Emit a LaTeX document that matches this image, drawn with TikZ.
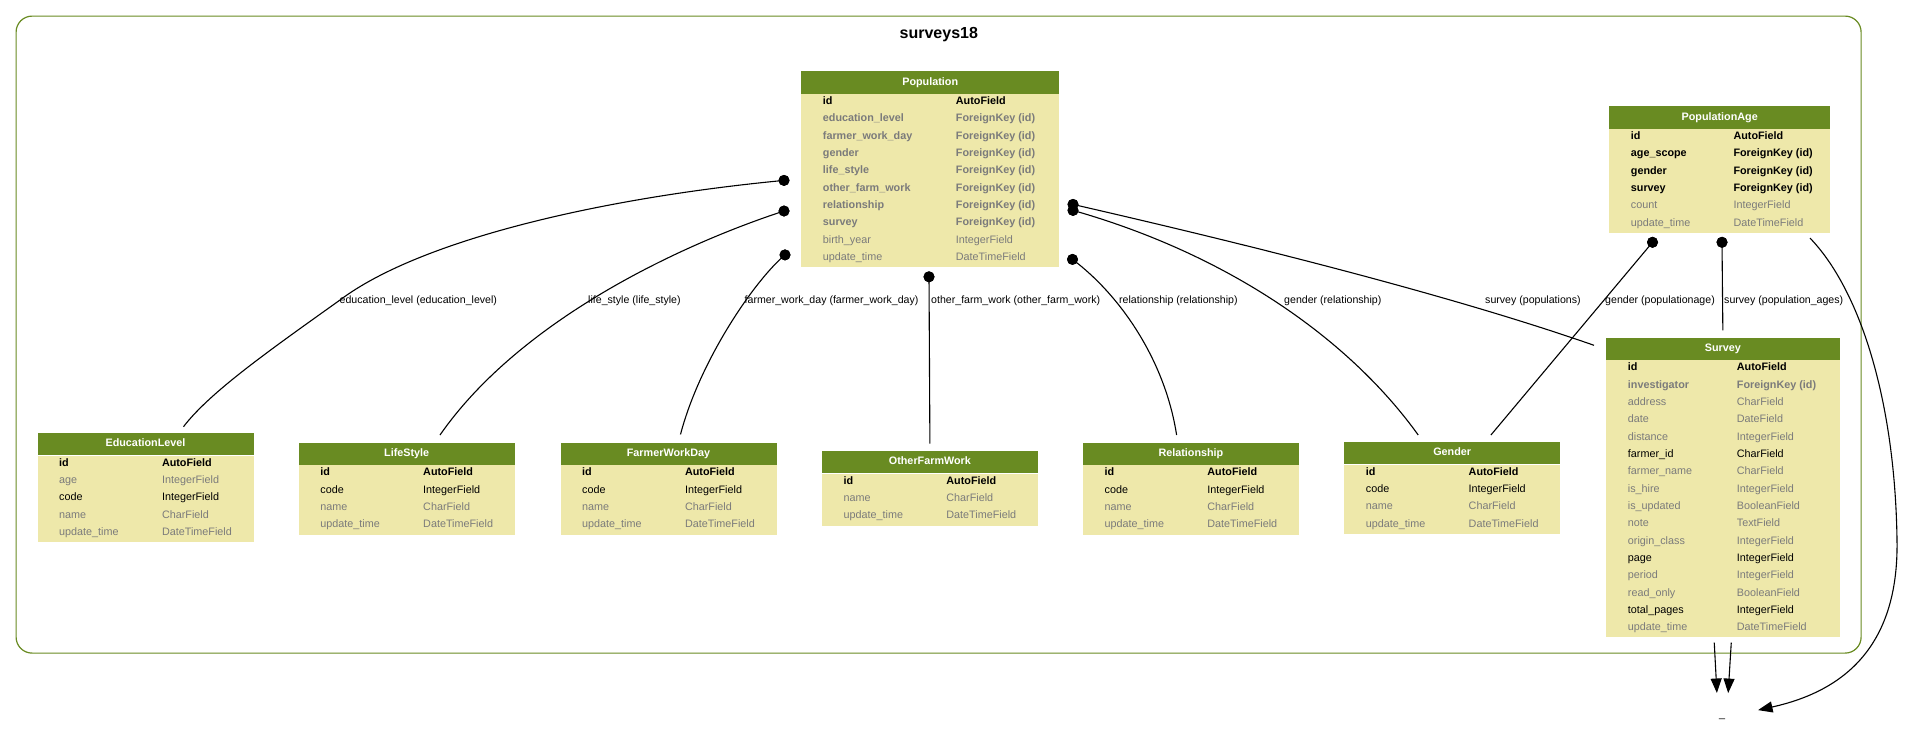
\documentclass[tikz,border=0pt]{standalone}
\usepackage{fontspec}
\setmainfont{Liberation Sans}
\usetikzlibrary{calc,arrows.meta,shapes.geometric}

\definecolor{olivehead}{HTML}{698B22}
\definecolor{paleboard}{HTML}{EEE8AA}
\definecolor{blankgray}{HTML}{7B7B7B}

\newcommand\fieldfont{\fontsize{10.8}{13}\selectfont}

\tikzset{
  tblhead/.style={fill=olivehead, text=white, font=\fieldfont\bfseries,
    inner sep=0pt, anchor=north west, minimum height=22.3pt,
    text height=8pt, text depth=2.3pt},
  tblbody/.style={fill=paleboard, inner sep=0pt, anchor=north west},
  pk/.style={font=\fieldfont\bfseries, text=black},
  fk/.style={font=\fieldfont\bfseries, text=blankgray},
  req/.style={font=\fieldfont, text=black},
  opt/.style={font=\fieldfont, text=blankgray},
  fkdot/.style={circle, fill=black, inner sep=0pt, minimum size=11pt},
  rel/.style={line width=1.1pt, black},
  relarrow/.style={rel, -{Triangle[length=14.5pt, width=11pt]}},
  rellabel/.style={font=\fontsize{10.6}{12}\selectfont, anchor=base west, inner sep=0pt},
}

% model table: #1 name, #2 left, #3 top, #4 width, #5 rows,
% #6 offset of the type column, #7 title, #8 style/field/type list
\newcommand\ermodel[8]{%
  \node[tblhead, minimum width=#4pt] (#1) at (#2,#3) {#7};
  \node[tblbody, minimum width=#4pt, minimum height=#5*17.33pt] (#1-body) at (#1.south west) {};
  \foreach \st/\fa/\fb [count=\i from 0] in {#8} {
    \node[\st, anchor=base west, inner sep=0pt] (#1-n\i) at ($(#1-body.north west)+(21.7,10.7+17.33*\i)$) {\fa};
    \node[\st, anchor=base west, inner sep=0pt] (#1-t\i) at ($(#1-body.north west)+(#6,10.7+17.33*\i)$) {\fb};
  }%
}

\begin{document}
\begin{tikzpicture}[x=1pt, y=-1pt]
\useasboundingbox (0,0) rectangle (1909,745);

% app cluster
\node[draw=olivehead, line width=1.2pt, rounded corners=16pt, inner sep=0pt,
      minimum width=1845pt, minimum height=637pt, anchor=north west] (cluster) at (15.5,15.5) {};
\node[font=\fontsize{16}{19}\selectfont\bfseries, anchor=base] (title) at (938.8,38.5) {surveys18};

% models
\ermodel{pop}{801}{71}{258}{10}{154.7}{Population}{
  pk/id/AutoField,
  fk/education\_level/ForeignKey (id),
  fk/farmer\_work\_day/ForeignKey (id),
  fk/gender/ForeignKey (id),
  fk/life\_style/ForeignKey (id),
  fk/other\_farm\_work/ForeignKey (id),
  fk/relationship/ForeignKey (id),
  fk/survey/ForeignKey (id),
  opt/birth\_year/IntegerField,
  opt/update\_time/DateTimeField}

\ermodel{pa}{1609}{106}{221}{6}{124.3}{PopulationAge}{
  pk/id/AutoField,
  pk/age\_scope/ForeignKey (id),
  pk/gender/ForeignKey (id),
  pk/survey/ForeignKey (id),
  opt/count/IntegerField,
  opt/update\_time/DateTimeField}

\ermodel{survey}{1606}{337.3}{233.3}{16}{130.7}{Survey}{
  pk/id/AutoField,
  fk/investigator/ForeignKey (id),
  opt/address/CharField,
  opt/date/DateField,
  opt/distance/IntegerField,
  req/farmer\_id/CharField,
  opt/farmer\_name/CharField,
  opt/is\_hire/IntegerField,
  opt/is\_updated/BooleanField,
  opt/note/TextField,
  opt/origin\_class/IntegerField,
  req/page/IntegerField,
  opt/period/IntegerField,
  opt/read\_only/BooleanField,
  req/total\_pages/IntegerField,
  opt/update\_time/DateTimeField}

\ermodel{edu}{37.3}{432.7}{216}{5}{124.5}{EducationLevel}{
  pk/id/AutoField,
  opt/age/IntegerField,
  req/code/IntegerField,
  opt/name/CharField,
  opt/update\_time/DateTimeField}

\ermodel{ls}{298.5}{442.4}{216}{4}{124.5}{LifeStyle}{
  pk/id/AutoField,
  req/code/IntegerField,
  opt/name/CharField,
  opt/update\_time/DateTimeField}

\ermodel{fwd}{560.3}{442.4}{216}{4}{124.5}{FarmerWorkDay}{
  pk/id/AutoField,
  req/code/IntegerField,
  opt/name/CharField,
  opt/update\_time/DateTimeField}

\ermodel{ofw}{821.7}{450.7}{216}{3}{124.5}{OtherFarmWork}{
  pk/id/AutoField,
  opt/name/CharField,
  opt/update\_time/DateTimeField}

\ermodel{rel}{1082.7}{442.4}{216}{4}{124.5}{Relationship}{
  pk/id/AutoField,
  req/code/IntegerField,
  opt/name/CharField,
  opt/update\_time/DateTimeField}

\ermodel{gen}{1344}{441.7}{216}{4}{124.5}{Gender}{
  pk/id/AutoField,
  req/code/IntegerField,
  opt/name/CharField,
  opt/update\_time/DateTimeField}

% model outside the app
\node[ellipse, minimum width=72pt, minimum height=38pt, inner sep=0pt,
      text height=11pt, text depth=0pt, font=\fieldfont] (und) at (1722,712) {\_};

% tail dots of the foreign keys
\node[fkdot] (dEdu)  at ($(pop-body.north west)+(-17,86.7)$) {};
\node[fkdot] (dLife) at ($(pop-body.north west)+(-17,117.3)$) {};
\node[fkdot] (dFwd)  at ($(pop-body.north west)+(-16,161.2)$) {};
\node[fkdot] (dOfw)  at ($(pop-body.north west)+(128,183.1)$) {};
\node[fkdot] (dRel)  at ($(pop-body.north west)+(271.5,165.7)$) {};
\node[fkdot] (dGen)  at ($(pop-body.north west)+(272,116.7)$) {};
\node[fkdot] (dSur)  at ($(pop-body.north west)+(272,110.7)$) {};
\node[fkdot] (dGa)   at ($(pa-body.south west)+(43.5,9.2)$) {};
\node[fkdot] (dSa)   at ($(pa-body.south west)+(113,9.2)$) {};

% relations from Population
\draw[rel] (dEdu.center) .. controls (600,198) and (420,240) .. (340,300)
  .. controls (270,350) and (210,392) .. ($(edu.north)+(38,-6)$);
\draw[rel] (dLife.center) .. controls (680,245) and (520,320) .. ($(ls.north)+(33.3,-7.4)$);
\draw[rel] (dFwd.center) .. controls (755,280) and (700,360) .. ($(fwd.north)+(12,-8)$);
\draw[rel] (dOfw.center) -- ($(ofw.north)+(0,-7)$);
\draw[rel] (dRel.center) .. controls (1120,295) and (1165,360) .. ($(rel.north)+(-14.3,-7.4)$);
\draw[rel] (dGen.center) .. controls (1230,255) and (1350,340) .. ($(gen.north)+(-34,-6.7)$);
\draw[rel] (dSur.center) .. controls (1250,245) and (1450,295) .. ($(survey.north west)+(-12,8)$);

% relations from PopulationAge
\draw[rel] (dGa.center) -- ($(gen.north)+(38.7,-6.7)$);
\draw[rel] (dSa.center) -- ($(survey.north)+(0,-7)$);
\draw[relarrow] ($(pa-body.south west)+(201,5)$) .. controls (1860,290) and (1895,400) .. (1897,540)
  .. controls (1899,650) and (1840,692) .. (und.3);

% relations from Survey
\draw[relarrow] ($(survey-body.south)+(-8.6,5)$) -- (und.105);
\draw[relarrow] ($(survey-body.south)+(8.4,5)$) -- (und.72);

% redraw dots above the lines
\foreach \d in {dEdu,dLife,dFwd,dOfw,dRel,dGen,dSur,dGa,dSa} \fill (\d) circle (5.5pt);

% relation labels
\node[rellabel] (lEdu)    at (339.5,303) {education\_level (education\_level)};
\node[rellabel] (lLife)   at (588,303)   {life\_style (life\_style)};
\node[rellabel] (lFwd)    at (744.5,303) {farmer\_work\_day (farmer\_work\_day)};
\node[rellabel] (lOfw)    at (931,303)   {other\_farm\_work (other\_farm\_work)};
\node[rellabel] (lRel)    at (1119,303)  {relationship (relationship)};
\node[rellabel] (lGenRel) at (1284,303)  {gender (relationship)};
\node[rellabel] (lSurPop) at (1485,303)  {survey (populations)};
\node[rellabel] (lGenPa)  at (1605,303)  {gender (populationage)};
\node[rellabel] (lSurPa)  at (1724,303)  {survey (population\_ages)};
\end{tikzpicture}
\end{document}
